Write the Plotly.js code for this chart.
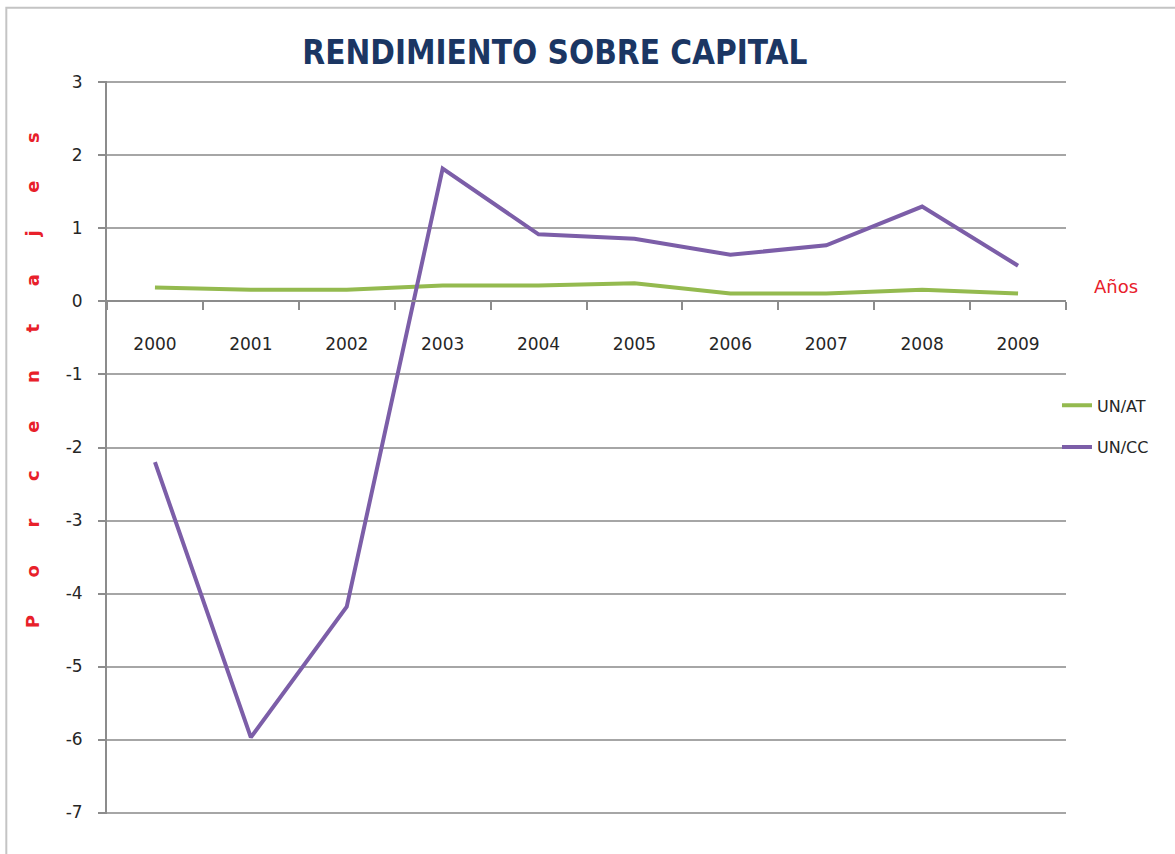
<!DOCTYPE html>
<html>
<head>
<meta charset="utf-8">
<script src="https://cdn.plot.ly/plotly-3.0.1.min.js"></script>
<style>html,body{margin:0;padding:0;background:#fff;}#chart{width:1175px;height:854px;}</style>
</head>
<body>
<div id="chart"></div>
<script>
const years = ['2000','2001','2002','2003','2004','2005','2006','2007','2008','2009'];
const unAT = [0.19, 0.16, 0.16, 0.22, 0.22, 0.25, 0.11, 0.11, 0.16, 0.11];
const unCC = [-2.2, -5.97, -4.18, 1.82, 0.92, 0.86, 0.64, 0.77, 1.30, 0.49];
const seriesNames = ['UN/AT', 'UN/CC'];
const yTicks = [-7, -6, -5, -4, -3, -2, -1, 0, 1, 2, 3];
const yTickText = yTicks.map(v => String(v));

const sp = '\u00A0\u00A0\u00A0\u00A0\u00A0\u00A0';
const yTitle = 'Porcentajes'.split('').join(sp);

const traces = [
  {x: years, y: unAT, name: seriesNames[0], type: 'scatter', mode: 'lines',
   line: {color: '#94BA4F', width: 4}, legendgroup: 'a'},
  {x: years, y: unCC, name: seriesNames[1], type: 'scatter', mode: 'lines',
   line: {color: '#7C5EA8', width: 4}, legendgroup: 'b'}
];

const layout = {
  width: 1175, height: 854,
  paper_bgcolor: '#ffffff', plot_bgcolor: '#ffffff',
  margin: {l: 107, r: 109, t: 81, b: 40},
  title: {text: 'RENDIMIENTO SOBRE CAPITAL', x: 0.467, xref: 'paper', xanchor: 'center',
          y: 0.938, yanchor: 'middle',
          font: {family: '"DejaVu Sans Condensed", "Liberation Sans Narrow", sans-serif', size: 33, color: '#1B3663', weight: 'bold'}},
  xaxis: {type: 'category', range: [-0.5, 9.5], anchor: 'free', position: 0.7,
          showline: true, linecolor: '#8c8c8c', linewidth: 2,
          ticks: 'outside', tickson: 'boundaries', ticklen: 8, tickcolor: '#8c8c8c', tickwidth: 2,
          showgrid: false, zeroline: false, ticklabelstandoff: 28,
          tickfont: {family: '"DejaVu Sans", sans-serif', size: 17, color: '#262626'}},
  yaxis: {range: [-7.02, 3.02], tickvals: yTicks, ticktext: yTickText,
          showline: true, linecolor: '#8c8c8c', linewidth: 2,
          ticks: 'outside', ticklen: 7, tickcolor: '#8c8c8c', tickwidth: 2,
          showgrid: true, gridcolor: '#a6a6a6', gridwidth: 2, zeroline: false,
          ticklabelstandoff: 12,
          tickfont: {family: '"DejaVu Sans", sans-serif', size: 17, color: '#262626'}},
  legend: {x: 0.9906, xanchor: 'left', y: 0.5806, yanchor: 'top', bgcolor: 'rgba(0,0,0,0)',
           traceorder: 'grouped', tracegroupgap: 18,
           font: {family: '"DejaVu Sans", sans-serif', size: 16, color: '#262626'}},
  showlegend: true,
  annotations: [
    {text: yTitle, xref: 'paper', yref: 'paper', x: -0.078, y: 0.592, textangle: -90,
     showarrow: false, xanchor: 'center', yanchor: 'middle',
     font: {family: '"DejaVu Sans", sans-serif', size: 18, color: '#E8202A', weight: 'bold'}},
    {text: 'Años', xref: 'paper', yref: 'paper', x: 1.027, y: 0.72, showarrow: false,
     xanchor: 'left', yanchor: 'middle',
     font: {family: '"DejaVu Sans", sans-serif', size: 18, color: '#E8202A'}}
  ],
  shapes: [
    {type: 'rect', xref: 'paper', yref: 'paper', x0: -0.105, x1: 1.3, y0: -0.3, y1: 1.1,
     line: {color: '#c4c4c4', width: 2}, fillcolor: 'rgba(0,0,0,0)', layer: 'below'}
  ]
};

Plotly.newPlot('chart', traces, layout, {displayModeBar: false, staticPlot: true});
</script>
</body>
</html>
